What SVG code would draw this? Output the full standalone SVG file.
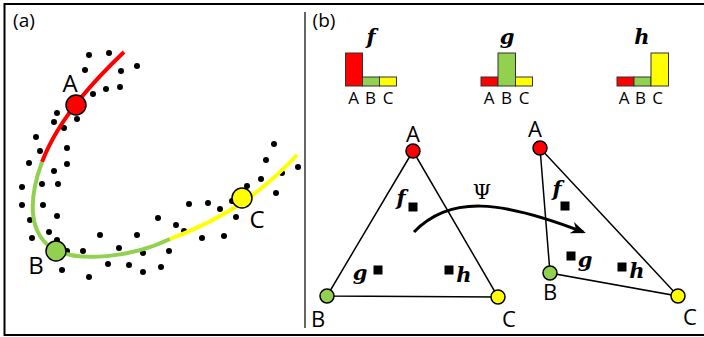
<svg xmlns="http://www.w3.org/2000/svg" width="704" height="337" viewBox="0 0 704 337">
<style>
.lbl{font-family:"Open Sans","Liberation Sans",Arial,sans-serif;fill:#000;text-anchor:middle}
.big{font-size:24px}
.mid{font-size:22px}
.sm{font-size:17px}
.math{font-family:"DejaVu Serif","Liberation Serif",serif;font-style:italic;font-weight:bold;font-size:21px;text-anchor:middle}
.dot{fill:#000}
.tri{fill:none;stroke:#000;stroke-width:1.5}
.node{stroke:#000;stroke-width:1.5}
.bar{stroke:#333;stroke-width:1}
.sq{fill:#000}
.r{fill:#FF0000}.g{fill:#92D050}.y{fill:#FFFF00}
</style>
<defs>
<marker id="ah" viewBox="0 0 10 10" refX="8" refY="5" markerWidth="5" markerHeight="5" orient="auto" markerUnits="strokeWidth">
<path d="M0,1 L10,5 L0,9 L3,5 Z" fill="#000"/>
</marker>
</defs>
<rect width="704" height="337" fill="#fff"/>
<g id="frame" stroke="#000" stroke-width="2" fill="none">
<path d="M4.5,4 L704,4 M4.5,3 L4.5,336 M3.5,335 L704,335"/>
</g>
<line x1="305" y1="12" x2="305" y2="328" stroke="#666" stroke-width="2"/>
<text class="lbl" x="24" y="27" style="font-size:19px">(a)</text>
<text class="lbl" x="324" y="27" style="font-size:19px">(b)</text>
<g id="dots" class="dot">
<circle cx="89" cy="55" r="3"/><circle cx="109" cy="53" r="3"/><circle cx="85" cy="70" r="3"/><circle cx="121" cy="71" r="3"/><circle cx="137" cy="66" r="3"/>
<circle cx="93" cy="94" r="3"/><circle cx="106" cy="89" r="3"/><circle cx="120" cy="87" r="3"/><circle cx="57" cy="113" r="3"/><circle cx="54" cy="122" r="3"/>
<circle cx="77" cy="119" r="3"/><circle cx="64" cy="128" r="3"/><circle cx="36" cy="137" r="3"/><circle cx="40" cy="151" r="3"/><circle cx="67" cy="148" r="3"/>
<circle cx="29" cy="163" r="3"/><circle cx="67" cy="164" r="3"/><circle cx="54" cy="171" r="3"/><circle cx="22" cy="187" r="3"/><circle cx="42" cy="184" r="3"/>
<circle cx="58" cy="184" r="3"/><circle cx="22" cy="205" r="3"/><circle cx="43" cy="205" r="3"/><circle cx="57" cy="216" r="3"/><circle cx="30" cy="220" r="3"/>
<circle cx="49" cy="232" r="3"/><circle cx="32" cy="238" r="3"/><circle cx="57" cy="240" r="3"/><circle cx="67" cy="251" r="3"/><circle cx="83" cy="251" r="3"/>
<circle cx="62" cy="270" r="3"/><circle cx="89" cy="277" r="3"/><circle cx="100" cy="235" r="3"/><circle cx="119" cy="248" r="3"/><circle cx="108" cy="264" r="3"/>
<circle cx="129" cy="265" r="3"/><circle cx="137" cy="235" r="3"/><circle cx="143" cy="253" r="3"/><circle cx="143" cy="272" r="3"/><circle cx="161" cy="267" r="3"/>
<circle cx="169" cy="251" r="3"/><circle cx="158" cy="218" r="3"/><circle cx="176" cy="225" r="3"/><circle cx="184" cy="231" r="3"/><circle cx="189" cy="204" r="3"/>
<circle cx="208" cy="203" r="3"/><circle cx="220" cy="209" r="3"/><circle cx="202" cy="238" r="3"/><circle cx="224" cy="236" r="3"/><circle cx="236" cy="217" r="3"/>
<circle cx="232" cy="201" r="3"/><circle cx="247" cy="186" r="3"/><circle cx="261" cy="179" r="3"/><circle cx="266" cy="160" r="3"/><circle cx="274" cy="144" r="3"/>
<circle cx="282" cy="173" r="3"/><circle cx="276" cy="193" r="3"/><circle cx="298" cy="167" r="3"/>
</g>
<g id="curve" fill="none" stroke-width="4">
<path d="M124,52 C100,75 60,115 42,162" stroke="#FF0000"/>
<path d="M42,162 C28,200 28,235 55,250 C80,262 130,258 170,239" stroke="#92D050"/>
<path d="M170,239 C215,222 255,200 297,155" stroke="#FFFF00"/>
</g>
<g id="nodeA"><circle class="node r" cx="76" cy="105" r="10"/><text class="lbl big" x="70" y="92">A</text></g>
<g id="nodeB"><circle class="node g" cx="56" cy="251" r="10"/><text class="lbl big" x="36" y="274">B</text></g>
<g id="nodeC"><circle class="node y" cx="242" cy="198" r="10"/><text class="lbl big" x="257" y="228">C</text></g>
<g id="histF">
<rect class="bar r" x="345.5" y="53" width="17" height="33"/>
<rect class="bar g" x="362.5" y="77" width="17" height="9"/>
<rect class="bar y" x="379.5" y="77" width="17" height="9"/>
<text class="math" x="371" y="44">f</text>
<text class="lbl sm" x="353.5" y="104">A</text><text class="lbl sm" x="370.5" y="104">B</text><text class="lbl sm" x="388" y="104">C</text>
</g>
<g id="histG">
<rect class="bar r" x="481" y="77" width="17" height="9"/>
<rect class="bar g" x="498" y="53" width="17.5" height="33"/>
<rect class="bar y" x="515.5" y="77" width="17" height="9"/>
<text class="math" x="507" y="44">g</text>
<text class="lbl sm" x="489" y="104">A</text><text class="lbl sm" x="506.5" y="104">B</text><text class="lbl sm" x="524" y="104">C</text>
</g>
<g id="histH">
<rect class="bar r" x="617" y="77" width="17" height="9"/>
<rect class="bar g" x="634" y="77" width="17" height="9"/>
<rect class="bar y" x="651" y="53" width="17.5" height="33"/>
<text class="math" x="642" y="44">h</text>
<text class="lbl sm" x="624" y="104">A</text><text class="lbl sm" x="640.5" y="104">B</text><text class="lbl sm" x="657.5" y="104">C</text>
</g>
<g id="connectors">
<path class="tri" d="M413,151 L327,296 L498,297 Z"/>
<path class="tri" d="M540,148 L550,273 L678,296 Z"/>
<path d="M414,232 C450,195 500,200 583,232" fill="none" stroke="#000" stroke-width="3" marker-end="url(#ah)"/>
<text x="482" y="199" style="font-family:'DejaVu Serif','Liberation Serif',serif;font-size:21px;text-anchor:middle">Ψ</text>
</g>
<g id="tri1A"><circle class="node r" cx="413" cy="151" r="7"/><text class="lbl mid" x="413" y="142">A</text></g>
<g id="tri1B"><circle class="node g" cx="327" cy="296" r="7"/><text class="lbl mid" x="318" y="327">B</text></g>
<g id="tri1C"><circle class="node y" cx="498" cy="297" r="7"/><text class="lbl mid" x="509" y="327">C</text></g>
<g id="tri1pts">
<rect class="sq" x="408.5" y="202.5" width="9" height="9"/><text class="math" x="401" y="205">f</text>
<rect class="sq" x="373.5" y="265.5" width="9" height="9"/><text class="math" x="360" y="280">g</text>
<rect class="sq" x="444.5" y="265.5" width="9" height="9"/><text class="math" x="464" y="282">h</text>
</g>
<g id="tri2A"><circle class="node r" cx="540" cy="148" r="7"/><text class="lbl mid" x="535" y="137">A</text></g>
<g id="tri2B"><circle class="node g" cx="550" cy="273" r="7"/><text class="lbl mid" x="550" y="300">B</text></g>
<g id="tri2C"><circle class="node y" cx="678" cy="296" r="7"/><text class="lbl mid" x="690" y="325">C</text></g>
<g id="tri2pts">
<rect class="sq" x="560.5" y="201.5" width="9" height="9"/><text class="math" x="557" y="196">f</text>
<rect class="sq" x="566.5" y="251.5" width="9" height="9"/><text class="math" x="585" y="267">g</text>
<rect class="sq" x="617.5" y="262.5" width="9" height="9"/><text class="math" x="637" y="278">h</text>
</g>
</svg>
